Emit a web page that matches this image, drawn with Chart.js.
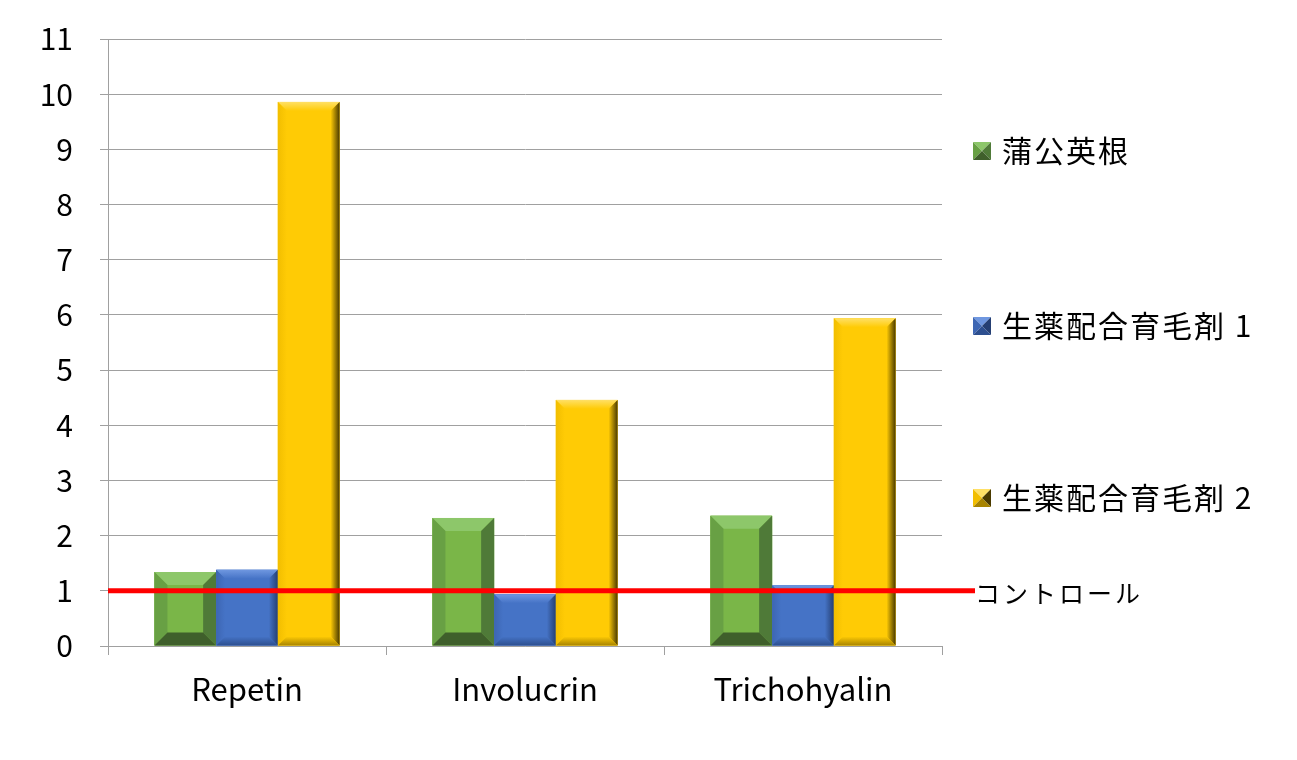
<!DOCTYPE html>
<html>
<head>
<meta charset="utf-8">
<script src="https://cdn.jsdelivr.net/npm/chart.js@4/dist/chart.umd.min.js"></script>
<style>
  html, body { margin: 0; padding: 0; background: #fff; }
  #wrap { width: 1297px; height: 760px; position: relative; }
</style>
</head>
<body>
<div id="wrap"><canvas id="barChart"></canvas></div>
<script>
// chart data
const categories = ['Repetin', 'Involucrin', 'Trichohyalin'];
const seriesNames = ['蒲公英根', '生薬配合育毛剤 1', '生薬配合育毛剤 2'];
const dandelion = [1.34, 2.32, 2.36];
const herbal1 = [1.38, 0.94, 1.10];
const herbal2 = [9.86, 4.46, 5.94];
const controlValue = 1;
const controlLabel = 'コントロール';
const yTicks = [0, 1, 2, 3, 4, 5, 6, 7, 8, 9, 10, 11];

const FONT = '"Noto Sans CJK JP", "Noto Sans", sans-serif';

// face colours for the bevel effect: centre, top, left, right, bottom
const palettes = [
    { base: '#7ab648', top: '#8dc76a', left: '#68a044', right: '#4f7a38', bottom: '#3f5f2b', sharp: true },
    { base: '#4573c6', top: '#6f97e0', left: '#3d66b3', right: '#253f73', bottom: '#2d4f8f', sharp: false },
    { base: '#ffcb05', top: '#ffe066', left: '#f2be00', right: '#4a3a00', bottom: '#a88400', sharp: false }
];

function drawBevel(ctx, x0, y0, x1, y1, p, b) {
    const w = x1 - x0, h = y1 - y0;
    b = Math.min(b, w / 2, h / 2);
    ctx.fillStyle = p.base;
    ctx.fillRect(x0, y0, w, h);
    if (p.sharp) {
        const poly = (pts, c) => {
            ctx.fillStyle = c;
            ctx.beginPath();
            ctx.moveTo(pts[0][0], pts[0][1]);
            for (let i = 1; i < pts.length; i++) ctx.lineTo(pts[i][0], pts[i][1]);
            ctx.closePath();
            ctx.fill();
        };
        poly([[x0, y0], [x1, y0], [x1 - b, y0 + b], [x0 + b, y0 + b]], p.top);
        poly([[x0, y0], [x0 + b, y0 + b], [x0 + b, y1 - b], [x0, y1]], p.left);
        poly([[x1, y0], [x1, y1], [x1 - b, y1 - b], [x1 - b, y0 + b]], p.right);
        poly([[x0, y1], [x0 + b, y1 - b], [x1 - b, y1 - b], [x1, y1]], p.bottom);
        return;
    }
    // soft rounded bevel: gradients on each edge
    ctx.save();
    let g = ctx.createLinearGradient(0, y0, 0, y0 + b);
    g.addColorStop(0, p.top); g.addColorStop(1, p.base);
    ctx.fillStyle = g;
    ctx.beginPath();
    ctx.moveTo(x0, y0); ctx.lineTo(x1, y0); ctx.lineTo(x1 - b, y0 + b); ctx.lineTo(x0 + b, y0 + b);
    ctx.closePath(); ctx.fill();
    g = ctx.createLinearGradient(x0, 0, x0 + b, 0);
    g.addColorStop(0, p.left); g.addColorStop(1, p.base);
    ctx.fillStyle = g;
    ctx.beginPath();
    ctx.moveTo(x0, y0); ctx.lineTo(x0 + b, y0 + b); ctx.lineTo(x0 + b, y1 - b); ctx.lineTo(x0, y1);
    ctx.closePath(); ctx.fill();
    g = ctx.createLinearGradient(x1, 0, x1 - b, 0);
    g.addColorStop(0, p.right); g.addColorStop(1, p.base);
    ctx.fillStyle = g;
    ctx.beginPath();
    ctx.moveTo(x1, y0); ctx.lineTo(x1, y1); ctx.lineTo(x1 - b, y1 - b); ctx.lineTo(x1 - b, y0 + b);
    ctx.closePath(); ctx.fill();
    g = ctx.createLinearGradient(0, y1, 0, y1 - b);
    g.addColorStop(0, p.bottom); g.addColorStop(1, p.base);
    ctx.fillStyle = g;
    ctx.beginPath();
    ctx.moveTo(x0, y1); ctx.lineTo(x0 + b, y1 - b); ctx.lineTo(x1 - b, y1 - b); ctx.lineTo(x1, y1);
    ctx.closePath(); ctx.fill();
    ctx.restore();
}

// draws bevelled bars over the plain ones, then the control line and legend
const bevelPlugin = {
    id: 'bevel',
    afterDatasetsDraw(chart) {
        const ctx = chart.ctx;
        chart.data.datasets.forEach((ds, i) => {
            const meta = chart.getDatasetMeta(i);
            meta.data.forEach(bar => {
                const half = bar.width / 2;
                drawBevel(ctx, bar.x - half, bar.y, bar.x + half, bar.base, palettes[i], palettes[i].sharp ? 13 : 9);
            });
        });
        // control line
        const y = chart.scales.y.getPixelForValue(controlValue);
        const area = chart.chartArea;
        ctx.save();
        ctx.strokeStyle = '#ff0000';
        ctx.lineWidth = 5;
        ctx.beginPath();
        ctx.moveTo(area.left, y);
        ctx.lineTo(area.right + 33, y);
        ctx.stroke();
        ctx.restore();
    },
    afterDraw(chart) {
        const ctx = chart.ctx;
        const legendY = [151, 326, 498];
        ctx.save();
        ctx.textBaseline = 'middle';
        seriesNames.forEach((name, i) => {
            const x = 973, y = legendY[i], s = 18;
            const p = palettes[i];
            // pyramid style marker
            ctx.fillStyle = p.top;
            ctx.beginPath(); ctx.moveTo(x, y - s / 2); ctx.lineTo(x + s, y - s / 2); ctx.lineTo(x + s / 2, y); ctx.closePath(); ctx.fill();
            ctx.fillStyle = p.left;
            ctx.beginPath(); ctx.moveTo(x, y - s / 2); ctx.lineTo(x + s / 2, y); ctx.lineTo(x, y + s / 2); ctx.closePath(); ctx.fill();
            ctx.fillStyle = p.right;
            ctx.beginPath(); ctx.moveTo(x + s, y - s / 2); ctx.lineTo(x + s, y + s / 2); ctx.lineTo(x + s / 2, y); ctx.closePath(); ctx.fill();
            ctx.fillStyle = p.bottom;
            ctx.beginPath(); ctx.moveTo(x, y + s / 2); ctx.lineTo(x + s, y + s / 2); ctx.lineTo(x + s / 2, y); ctx.closePath(); ctx.fill();
            ctx.fillStyle = '#000';
            ctx.font = '30px ' + FONT;
            ctx.letterSpacing = '2px';
            ctx.fillText(name, 1002, y);
        });
        ctx.font = '25px ' + FONT;
        ctx.letterSpacing = '3px';
        ctx.fillStyle = '#000';
        ctx.fillText(controlLabel, 975, 593);
        ctx.restore();
    }
};

function createBarChart() {
    const ctx = document.getElementById('barChart');
    const data = [dandelion, herbal1, herbal2];

    const config = {
        type: 'bar',
        data: {
            labels: categories,
            datasets: seriesNames.map((name, i) => ({
                label: name,
                data: data[i],
                backgroundColor: palettes[i].base,
                borderWidth: 0,
                barPercentage: 1,
                categoryPercentage: 0.666
            }))
        },
        options: {
            responsive: true,
            maintainAspectRatio: false,
            animation: false,
            layout: { padding: { top: 39, left: 0, right: 355, bottom: 0 } },
            scales: {
                y: {
                    min: 0,
                    max: 11,
                    afterFit(scale) { scale.width = 108; scale.paddingTop = 0; scale.paddingBottom = 0; },
                    afterBuildTicks(scale) { scale.ticks = yTicks.map(v => ({ value: v })); },
                    ticks: {
                        color: '#000',
                        padding: 27,
                        font: { family: FONT, size: 30 }
                    },
                    grid: { color: '#a0a0a0', tickLength: 8, lineWidth: 1 },
                    border: { display: true, color: '#a0a0a0' }
                },
                x: {
                    afterFit(scale) { scale.height = 114; scale.paddingLeft = 0; scale.paddingRight = 0; },
                    ticks: {
                        color: '#000',
                        padding: 16,
                        font: { family: FONT, size: 31 }
                    },
                    grid: { display: true, drawOnChartArea: false, offset: true, tickLength: 9, color: '#a0a0a0' },
                    border: { display: true, color: '#a0a0a0' }
                }
            },
            plugins: {
                legend: { display: false },
                tooltip: { enabled: false }
            }
        },
        plugins: [bevelPlugin]
    };

    window.barChartInstance = new Chart(ctx, config);
}

createBarChart();
</script>
</body>
</html>
